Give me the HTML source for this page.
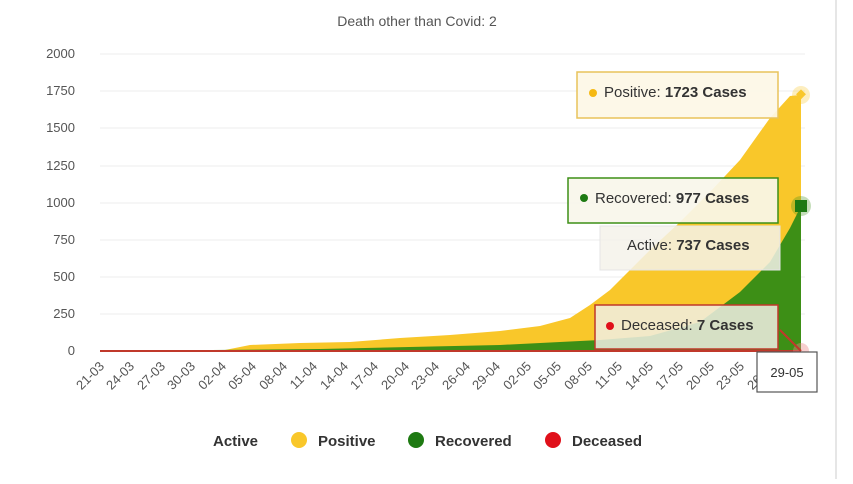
<!DOCTYPE html>
<html><head><style>
body{margin:0;background:#fff;width:853px;height:479px;overflow:hidden;font-family:"Liberation Sans",sans-serif;}
</style></head><body>
<svg width="853" height="479" xmlns="http://www.w3.org/2000/svg" font-family="Liberation Sans, sans-serif">
<line x1="836" y1="0" x2="836" y2="479" stroke="#e6e6e6" stroke-width="2"/>
<text x="417" y="26" font-size="14" fill="#555" text-anchor="middle">Death other than Covid: 2</text>
<g stroke="#ececec" stroke-width="1">
<line x1="100" y1="54" x2="805" y2="54"/><line x1="100" y1="91" x2="805" y2="91"/>
<line x1="100" y1="128" x2="805" y2="128"/><line x1="100" y1="166" x2="805" y2="166"/>
<line x1="100" y1="203" x2="805" y2="203"/><line x1="100" y1="240" x2="805" y2="240"/>
<line x1="100" y1="277" x2="805" y2="277"/><line x1="100" y1="314" x2="805" y2="314"/>
</g>
<g font-size="13" fill="#555" text-anchor="end">
<text x="75" y="58">2000</text><text x="75" y="95">1750</text><text x="75" y="132">1500</text>
<text x="75" y="170">1250</text><text x="75" y="207">1000</text><text x="75" y="244">750</text>
<text x="75" y="281">500</text><text x="75" y="318">250</text><text x="75" y="355">0</text>
</g>
<path d="M100,351 L220,351 L250,345 L300,343 L350,342 L400,338 L450,335 L500,331 L540,326 L570,318 L590,305 L610,290 L630,270 L650,250 L680,222 L710,192 L740,160 L770,118 L790,96 L801,95 L801,351 Z" fill="#f9c72a"/>
<path d="M100,351 L320,349 L500,345 L560,342 L600,340 L650,336 L700,322 L740,292 L770,262 L790,228 L801,206 L801,351 Z" fill="#3d8f16"/>
<line x1="100" y1="351" x2="801" y2="351" stroke="#c0392b" stroke-width="2"/>
<g font-size="13" fill="#555">
<text transform="translate(105,367) rotate(-45)" text-anchor="end">21-03</text>
<text transform="translate(135,367) rotate(-45)" text-anchor="end">24-03</text>
<text transform="translate(166,367) rotate(-45)" text-anchor="end">27-03</text>
<text transform="translate(196,367) rotate(-45)" text-anchor="end">30-03</text>
<text transform="translate(227,367) rotate(-45)" text-anchor="end">02-04</text>
<text transform="translate(257,367) rotate(-45)" text-anchor="end">05-04</text>
<text transform="translate(288,367) rotate(-45)" text-anchor="end">08-04</text>
<text transform="translate(318,367) rotate(-45)" text-anchor="end">11-04</text>
<text transform="translate(349,367) rotate(-45)" text-anchor="end">14-04</text>
<text transform="translate(379,367) rotate(-45)" text-anchor="end">17-04</text>
<text transform="translate(410,367) rotate(-45)" text-anchor="end">20-04</text>
<text transform="translate(440,367) rotate(-45)" text-anchor="end">23-04</text>
<text transform="translate(471,367) rotate(-45)" text-anchor="end">26-04</text>
<text transform="translate(501,367) rotate(-45)" text-anchor="end">29-04</text>
<text transform="translate(532,367) rotate(-45)" text-anchor="end">02-05</text>
<text transform="translate(562,367) rotate(-45)" text-anchor="end">05-05</text>
<text transform="translate(593,367) rotate(-45)" text-anchor="end">08-05</text>
<text transform="translate(623,367) rotate(-45)" text-anchor="end">11-05</text>
<text transform="translate(654,367) rotate(-45)" text-anchor="end">14-05</text>
<text transform="translate(684,367) rotate(-45)" text-anchor="end">17-05</text>
<text transform="translate(715,367) rotate(-45)" text-anchor="end">20-05</text>
<text transform="translate(745,367) rotate(-45)" text-anchor="end">23-05</text>
<text transform="translate(776,367) rotate(-45)" text-anchor="end">26-05</text>
</g>
<circle cx="801" cy="95" r="9" fill="#f9c72a" opacity="0.3"/>
<rect x="797" y="91" width="7" height="7" fill="#f9c72a" transform="rotate(45 801 95)"/>
<circle cx="801" cy="206" r="10" fill="#3d8f16" opacity="0.3"/>
<rect x="795" y="200" width="12" height="12" fill="#1e7a12"/>
<circle cx="801" cy="351" r="8" fill="#e88" opacity="0.4"/>
<line x1="780" y1="330" x2="801" y2="351" stroke="#c0392b" stroke-width="2"/>
<rect x="577" y="72" width="201" height="46" fill="#fdf7e6" fill-opacity="0.92" stroke="#e8c35a" stroke-width="1.5"/>
<circle cx="593" cy="93" r="4" fill="#f5b913"/>
<text x="604" y="97" font-size="15" fill="#333">Positive: <tspan font-weight="bold">1723 Cases</tspan></text>
<rect x="600" y="226" width="180" height="44" fill="#f5f2ea" fill-opacity="0.85" stroke="#e5e5e5"/>
<text x="627" y="250" font-size="15" fill="#333">Active: <tspan font-weight="bold">737 Cases</tspan></text>
<rect x="568" y="178" width="210" height="45" fill="#f8f6ea" fill-opacity="0.92" stroke="#3d8f16" stroke-width="1.5"/>
<circle cx="584" cy="198" r="4" fill="#1e7a12"/>
<text x="595" y="203" font-size="15" fill="#333">Recovered: <tspan font-weight="bold">977 Cases</tspan></text>
<rect x="595" y="305" width="183" height="44" fill="#f1efe4" fill-opacity="0.85" stroke="#c0392b" stroke-width="1.5"/>
<circle cx="610" cy="326" r="4" fill="#e0101a"/>
<text x="621" y="330" font-size="15" fill="#333">Deceased: <tspan font-weight="bold">7 Cases</tspan></text>
<rect x="757" y="352" width="60" height="40" fill="#fff" stroke="#555" stroke-width="1.2"/>
<text x="787" y="377" font-size="13" fill="#333" text-anchor="middle">29-05</text>
<g font-size="15" font-weight="bold" fill="#333">
<text x="213" y="446">Active</text>
<circle cx="299" cy="440" r="8" fill="#f9c72a"/><text x="318" y="446">Positive</text>
<circle cx="416" cy="440" r="8" fill="#1e7a12"/><text x="435" y="446">Recovered</text>
<circle cx="553" cy="440" r="8" fill="#e0101a"/><text x="572" y="446">Deceased</text>
</g>
</svg>
</body></html>
